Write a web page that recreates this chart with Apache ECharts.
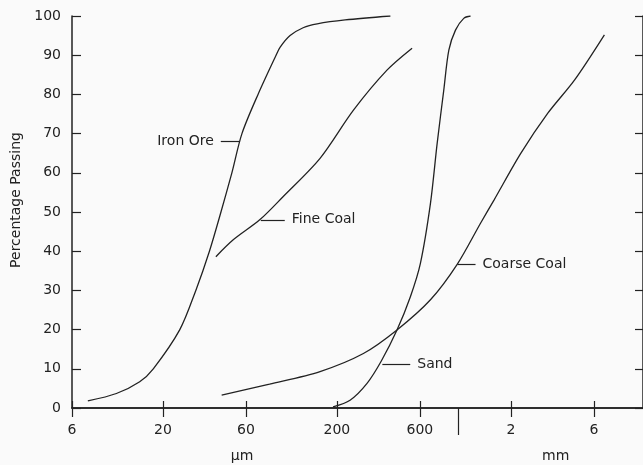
<!DOCTYPE html>
<html>
<head>
<meta charset="utf-8">
<script src="https://cdn.jsdelivr.net/npm/echarts@6/dist/echarts.min.js"></script>
<style>html,body{margin:0;padding:0;background:#fafafa;}#c{width:643px;height:465px;}</style>
</head>
<body>
<div id="c"></div>
<script>
// Particle size in micrometres, percentage passing
var ironOreSize = [7.4, 10.8, 14.7, 17.6, 25.0, 30.9, 37.0, 43.1, 49.8, 56.9, 70.4, 89.4, 94.2, 107.6, 127.9, 154, 223, 406];
var ironOrePct  = [1.8, 3.7, 6.7, 10, 20, 30, 40, 50, 60, 70, 80, 90, 92, 95, 97, 98, 99, 100];
var fineCoalSize = [40.3, 50.7, 72, 98, 160, 249, 388, 541];
var fineCoalPct  = [38.6, 42.9, 48, 53.9, 63.7, 76, 86.2, 91.8];
var sandSize = [190, 238, 298, 360, 443, 529, 604, 690, 754, 823, 880, 961, 1072, 1173];
var sandPct  = [0.3, 2.0, 6.3, 12, 19.9, 28.4, 36.9, 52.2, 67.5, 81.1, 91.3, 96.4, 99.4, 100];
var coarseCoalSize = [43.5, 82, 160, 284, 443, 690, 985, 1341, 1603, 2285, 3262, 4653, 6900];
var coarseCoalPct  = [3.3, 6.1, 9.3, 13.9, 19.9, 27.6, 36.7, 47.2, 53.1, 65, 75.2, 83.7, 95.2];

var xTickValues = [6, 20, 60, 200, 600, 2000, 6000];
var xTickLabels = ['6', '20', '60', '200', '600', '2', '6'];
var unitPositions = [57, 3624];
var unitLabels = ['\u03bcm', 'mm'];
var breakValue = [1000];
var xMin = 6, xMax = 11500;

// Leader lines: [fromSize, toSize, pct, labelSide]
var leaders = {
  'Iron Ore':    [43, 55.3, 68.1, 'start'],
  'Fine Coal':   [73, 100.3, 48, 'end'],
  'Sand':        [365, 528, 11.2, 'end'],
  'Coarse Coal': [987, 1253, 36.7, 'end']
};

var L = Math.log10;
var ink = '#222';
var font = 'DejaVu Sans';
var fs = 14;

function pts(xs, ys) { return xs.map(function (x, i) { return [L(x), ys[i]]; }); }

function makeSeries(name, xs, ys) {
  var ld = leaders[name];
  return {
    name: name, type: 'line', data: pts(xs, ys),
    xAxisIndex: 0, yAxisIndex: 0,
    showSymbol: false, smooth: 0.3,
    lineStyle: { color: ink, width: 1.3 },
    silent: true,
    markLine: {
      silent: true, symbol: ['none', 'none'], animation: false,
      lineStyle: { color: ink, width: 1.2, type: 'solid' },
      label: { show: true, position: ld[3], distance: 7, formatter: name,
               color: ink, fontFamily: font, fontSize: fs },
      data: [[{ coord: [L(ld[0]), ld[2]] }, { coord: [L(ld[1]), ld[2]] }]]
    }
  };
}

var axisLineStyle = { color: ink, width: 1.5 };
var chart = echarts.init(document.getElementById('c'), null, { renderer: 'canvas' });
chart.setOption({
  backgroundColor: '#fafafa',
  animation: false,
  grid: { left: 72, right: 0, top: 16, bottom: 57, containLabel: false },
  xAxis: [
    {
      type: 'value', position: 'bottom', min: L(xMin), max: L(xMax),
      splitLine: { show: false },
      axisLine: { show: true, lineStyle: axisLineStyle },
      axisTick: { show: true, inside: true, length: 7, customValues: xTickValues.map(L), lineStyle: { color: ink, width: 1.2 } },
      axisLabel: { show: true, customValues: xTickValues.map(L), margin: 15, color: ink, fontFamily: font, fontSize: fs,
        formatter: function (v) { var i = xTickValues.findIndex(function (t) { return Math.abs(L(t) - v) < 1e-6; }); return i >= 0 ? xTickLabels[i] : ''; } }
    },
    {
      type: 'value', position: 'top', min: L(xMin), max: L(xMax),
      splitLine: { show: false },
      axisLine: { show: true, lineStyle: axisLineStyle },
      axisTick: { show: true, inside: true, length: 9, customValues: xTickValues.map(L), lineStyle: { color: ink, width: 1.2 } },
      axisLabel: { show: false }
    },
    {
      type: 'value', position: 'bottom', min: L(xMin), max: L(xMax),
      splitLine: { show: false },
      axisLine: { show: false },
      axisTick: { show: true, inside: false, length: 27, customValues: breakValue.map(L), lineStyle: { color: ink, width: 1.2 } },
      axisLabel: { show: true, customValues: unitPositions.map(L), margin: 41, color: ink, fontFamily: font, fontSize: fs,
        formatter: function (v) { var i = unitPositions.findIndex(function (t) { return Math.abs(L(t) - v) < 1e-6; }); return i >= 0 ? unitLabels[i] : ''; } }
    }
  ],
  yAxis: [
    {
      type: 'value', position: 'left', min: 0, max: 100, interval: 10,
      name: 'Percentage Passing', nameLocation: 'middle', nameGap: 47, nameRotate: 90,
      nameTextStyle: { color: ink, fontFamily: font, fontSize: 14, padding: [0, 0, 0, 24] },
      splitLine: { show: false },
      axisLine: { show: true, lineStyle: axisLineStyle },
      axisTick: { show: true, inside: true, length: 9, lineStyle: { color: ink, width: 1.2 } },
      axisLabel: { margin: 11, color: ink, fontFamily: font, fontSize: fs }
    },
    {
      type: 'value', position: 'right', min: 0, max: 100, interval: 10,
      splitLine: { show: false },
      axisLine: { show: true, lineStyle: axisLineStyle },
      axisTick: { show: true, inside: true, length: 8, lineStyle: { color: ink, width: 1.2 } },
      axisLabel: { show: false }
    }
  ],
  series: [
    makeSeries('Iron Ore', ironOreSize, ironOrePct),
    makeSeries('Fine Coal', fineCoalSize, fineCoalPct),
    makeSeries('Sand', sandSize, sandPct),
    makeSeries('Coarse Coal', coarseCoalSize, coarseCoalPct)
  ]
});
</script>
</body>
</html>
